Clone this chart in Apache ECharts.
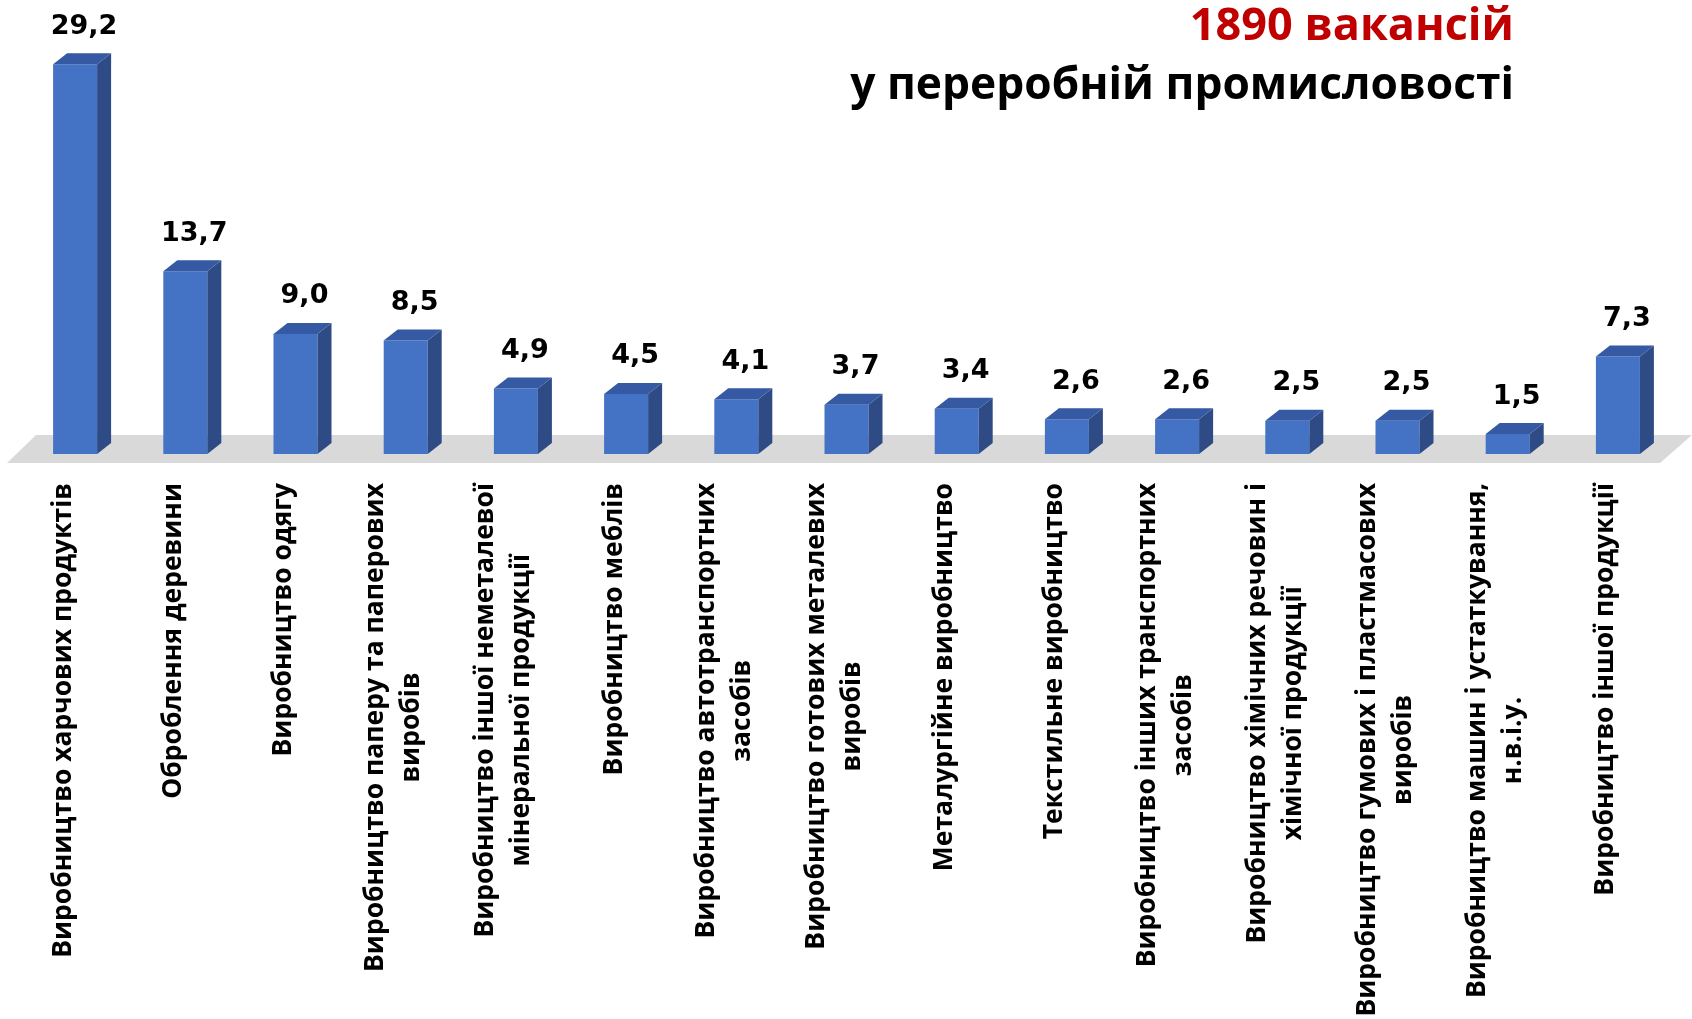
<!DOCTYPE html>
<html>
<head>
<meta charset="utf-8">
<script src="https://cdn.jsdelivr.net/npm/echarts@6/dist/echarts.min.js"></script>
<style>
    html, body { margin: 0; padding: 0; background: #fff; }
    #chart { width: 1692px; height: 1019px; }
</style>
</head>
<body>
<div id="chart"></div>
<script>
// categories + values (тис. вакансій, %)
let categories = [
    'Виробництво харчових продуктів',
    'Оброблення деревини',
    'Виробництво одягу',
    'Виробництво паперу та паперових\nвиробів',
    'Виробництво іншої неметалевої\nмінеральної продукції',
    'Виробництво меблів',
    'Виробництво автотранспортних\nзасобів',
    'Виробництво готових металевих\nвиробів',
    'Металургійне виробництво',
    'Текстильне виробництво',
    'Виробництво інших транспортних\nзасобів',
    'Виробництво хімічних речовин і\nхімічної продукції',
    'Виробництво гумових і пластмасових\nвиробів',
    'Виробництво машин і устаткування,\nн.в.і.у.',
    'Виробництво іншої продукції'
];
let values = [29.2, 13.7, 9.0, 8.5, 4.9, 4.5, 4.1, 3.7, 3.4, 2.6, 2.6, 2.5, 2.5, 1.5, 7.3];
let titleLine1 = '1890 вакансій';
let titleLine2 = 'у переробній промисловості';

let frontColor = '#4472c4';
let sideColor = '#2e4b85';
let topColor = '#3559a3';
let floorColor = '#d9d9d9';
let faceW = 44, depthX = 14, depthY = 11;

function fmt(v) {
    return v.toFixed(1).replace('.', ',');
}

// сіра "підлога" під стовпчиками
let renderFloor = function (params, api) {
    let cs = params.coordSys;
    let base = api.coord([0, 0])[1];
    let top = base - 19, bottom = base + 9;
    return {
        type: 'polygon',
        silent: true,
        shape: {
            points: [
                [cs.x - 20, bottom],
                [cs.x + 9, top],
                [cs.x + cs.width + 12, top],
                [cs.x + cs.width - 20, bottom]
            ]
        },
        style: { fill: floorColor }
    };
};

let renderBar = function (params, api) {
    let v = api.value(1);
    let topPt = api.coord([api.value(0), v]);
    let basePt = api.coord([api.value(0), 0]);
    let fl = topPt[0] - faceW / 2 - depthX / 2;
    let fr = fl + faceW;
    let ty = topPt[1], by = basePt[1];
    return {
        type: 'group',
        children: [
            {
                type: 'rect',
                shape: { x: fl, y: ty, width: faceW, height: by - ty },
                style: { fill: frontColor }
            },
            {
                type: 'polygon',
                shape: { points: [[fr, ty], [fr + depthX, ty - depthY], [fr + depthX, by - depthY], [fr, by]] },
                style: { fill: sideColor }
            },
            {
                type: 'polygon',
                shape: { points: [[fl, ty], [fl + depthX, ty - depthY], [fr + depthX, ty - depthY], [fr, ty]] },
                style: { fill: topColor }
            },
            {
                type: 'text',
                x: topPt[0] + 2,
                y: ty - depthY - 13,
                style: {
                    text: fmt(v),
                    fill: '#000',
                    fontSize: 27,
                    fontWeight: 'bold',
                    fontFamily: 'DejaVu Sans',
                    align: 'center',
                    verticalAlign: 'bottom'
                }
            }
        ]
    };
};

let option = {
    animation: false,
    title: {
        text: '{a|' + titleLine1 + '}\n{b|' + titleLine2 + '}',
        right: 178,
        top: 0,
        padding: 0,
        textStyle: {
            rich: {
                a: { fontFamily: 'Open Sans', fontWeight: 'bold', fontSize: 45, lineHeight: 54, color: '#c00000', align: 'right' },
                b: { fontFamily: 'Open Sans', fontWeight: 'bold', fontSize: 44.3, lineHeight: 64, color: '#000', align: 'right' }
            }
        }
    },
    grid: {
        left: 27,
        right: 12,
        top: 27,
        bottom: 565,
        outerBoundsMode: 'none'
    },
    xAxis: {
        type: 'category',
        data: categories,
        axisLine: { show: false },
        axisTick: { show: false },
        axisLabel: {
            interval: 0,
            rotate: 90,
            margin: 29,
            padding: [0, 0, 38, 0],
            formatter: function (value) {
                return value.split('\n').map(function (s) {
                    return '{c|' + s + '}';
                }).join('\n');
            },
            rich: {
                c: { fontFamily: 'Open Sans', fontWeight: 'bold', fontSize: 26.5, lineHeight: 36, color: '#000', align: 'center' }
            }
        }
    },
    yAxis: {
        type: 'value',
        min: 0,
        max: 32,
        show: false,
        splitLine: { show: false }
    },
    series: [
        {
            type: 'custom',
            renderItem: renderFloor,
            data: [[0, 0]],
            silent: true,
            z: 1
        },
        {
            type: 'custom',
            renderItem: renderBar,
            data: values.map(function (v, i) { return [i, v]; }),
            z: 2
        }
    ]
};

let chart = echarts.init(document.getElementById('chart'));
chart.setOption(option);
</script>
</body>
</html>
